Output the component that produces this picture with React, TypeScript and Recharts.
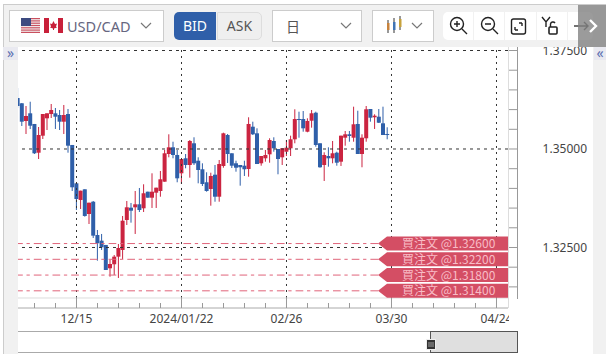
import React from 'react';
import { ComposedChart, Bar, XAxis, YAxis, ReferenceLine } from 'recharts';

// daily candles, prices (first visible bar is clipped by the left edge)
const highs = [1.36548,1.36167,1.36091,1.362,1.35635,1.35558,1.35888,1.35906,1.36142,1.36041,1.3599,1.36117,1.36015,1.35102,1.34129,1.33942,1.33977,1.33637,1.3368,1.32944,1.32843,1.32564,1.32183,1.3231,1.32589,1.333,1.3368,1.3363,1.33934,1.3401,1.34104,1.33916,1.34383,1.34018,1.34442,1.34975,1.35373,1.35185,1.34975,1.34746,1.34873,1.35228,1.35297,1.34789,1.34637,1.34409,1.34398,1.34594,1.34721,1.35414,1.35381,1.34891,1.34703,1.34594,1.34703,1.35805,1.35693,1.35525,1.34822,1.34975,1.35272,1.35297,1.35,1.35018,1.35228,1.35338,1.36008,1.35947,1.35964,1.35779,1.3599,1.35947,1.35145,1.34916,1.35043,1.35203,1.34931,1.35338,1.35457,1.35457,1.36074,1.35972,1.35373,1.36091,1.36015,1.35881,1.36015,1.36074,1.35551];
const lows = [1.36041,1.35584,1.35381,1.35508,1.34873,1.34746,1.35254,1.35482,1.35787,1.35508,1.35482,1.35381,1.34906,1.33934,1.33452,1.33477,1.33282,1.33096,1.32741,1.32165,1.32437,1.31929,1.31759,1.31802,1.31726,1.32208,1.33071,1.3313,1.32843,1.33401,1.33401,1.33764,1.33503,1.33503,1.33789,1.3417,1.34789,1.34764,1.34155,1.34112,1.3451,1.34272,1.34594,1.34129,1.34061,1.33916,1.33561,1.33662,1.33662,1.34525,1.34645,1.34518,1.34424,1.34069,1.34315,1.34297,1.35355,1.34619,1.34576,1.34678,1.34652,1.34931,1.34358,1.34594,1.34822,1.34822,1.35145,1.35287,1.35439,1.35424,1.35541,1.35058,1.34525,1.34188,1.34551,1.34637,1.34576,1.34569,1.35084,1.35185,1.35185,1.34873,1.34536,1.35185,1.35693,1.35508,1.3566,1.35355,1.35246];
const opens = [1.36294,1.3616,1.35711,1.35906,1.35635,1.34906,1.35338,1.35779,1.35888,1.35906,1.35863,1.35693,1.35888,1.35102,1.34129,1.33706,1.33977,1.3335,1.33662,1.32817,1.32673,1.32564,1.31972,1.32074,1.32267,1.32437,1.33198,1.3351,1.3352,1.33596,1.33495,1.33916,1.33764,1.33891,1.33934,1.3417,1.34873,1.35043,1.34848,1.34383,1.34764,1.34594,1.35145,1.34703,1.34485,1.34155,1.33985,1.34348,1.33789,1.34569,1.35355,1.34891,1.34637,1.34594,1.34576,1.34492,1.35566,1.35398,1.34637,1.34764,1.34865,1.35203,1.35,1.34789,1.34931,1.35018,1.35246,1.35761,1.35761,1.35439,1.35718,1.35921,1.35145,1.34594,1.34822,1.34764,1.34906,1.34678,1.35287,1.35373,1.35287,1.35635,1.34873,1.35272,1.36015,1.35805,1.3582,1.35652,1.35381];
const closes = [1.36091,1.35693,1.35838,1.35591,1.34891,1.35355,1.35888,1.35906,1.3599,1.3582,1.35693,1.35863,1.35084,1.34028,1.33731,1.33942,1.333,1.33637,1.328,1.32607,1.32505,1.31929,1.32081,1.32267,1.32487,1.3318,1.3352,1.33434,1.33596,1.33452,1.33876,1.33764,1.33916,1.34018,1.34231,1.34891,1.35043,1.34848,1.34256,1.34746,1.34594,1.35203,1.34637,1.34467,1.34112,1.33934,1.34315,1.33789,1.34619,1.35398,1.34873,1.34576,1.34525,1.34536,1.34485,1.35635,1.35373,1.34619,1.34822,1.34848,1.35228,1.35018,1.34746,1.35018,1.35033,1.35246,1.35761,1.35736,1.35525,1.35711,1.35906,1.35102,1.34536,1.34848,1.34764,1.34891,1.34652,1.35338,1.35373,1.3533,1.35627,1.34873,1.35287,1.36008,1.35794,1.35845,1.35667,1.35355,1.35355];

const orderPrices = [1.326, 1.322, 1.318, 1.314];
const gridPrices = [1.375, 1.35, 1.325];
const priceTicks = [1.315, 1.32, 1.325, 1.33, 1.335, 1.34, 1.345, 1.35, 1.355, 1.36, 1.365, 1.37, 1.375];
const timeLabels: Record<number, string> = { 0: '12/15', 25: '2024/01/22', 50: '02/26', 75: '03/30', 100: '04/24' };
const timeTicks = [-10, -5, 0, 5, 10, 15, 20, 25, 30, 35, 40, 45, 50, 55, 60, 65, 70, 75, 80, 85, 90, 95, 100];
const gridBars = [0, 25, 50, 75, 100];

const data = highs.map((high, i) => ({
  idx: i - 14,
  high,
  low: lows[i],
  open: opens[i],
  close: closes[i],
}));

const BLUE = '#2f5fa9';
const RED = '#cb2440';
const FONT = '"Noto Sans", sans-serif';
const PRICE_TOP = 1.37589;
const PRICE_BOTTOM = 1.30964;
const PLOT_FLOOR = 1.31218;

function Candle(props: any) {
  const { x, y, width, height, payload } = props;
  const up = payload.close >= payload.open;
  const color = up ? RED : BLUE;
  const perUnit = height / (payload.high - payload.low);
  const top = y + (payload.high - Math.max(payload.open, payload.close)) * perUnit;
  const bodyH = Math.abs(payload.close - payload.open) * perUnit;
  const mid = x + width / 2;
  return (
    <g>
      <line x1={mid} x2={mid} y1={y} y2={y + height} stroke={color} strokeWidth={1} />
      <rect x={x} y={top} width={width} height={Math.max(bodyH, 1)} fill={color} />
    </g>
  );
}

function PriceTick(props: any) {
  const { x, y, payload } = props;
  const major = Math.round(payload.value * 1000) % 25 === 0;
  return (
    <g>
      <line x1={x} x2={x + 10} y1={y} y2={y} stroke="#999" />
      {major && (
        <text x={x + 79} y={y + 4.5} textAnchor="end" fontSize={12} fill="#444" fontFamily={FONT}>
          {payload.value.toFixed(5)}
        </text>
      )}
    </g>
  );
}

function TimeTick(props: any) {
  const { x, y, payload } = props;
  const label = timeLabels[payload.value];
  return (
    <g>
      <line x1={x} x2={x} y1={y - (label ? 10 : 5)} y2={y} stroke="#999" />
      {label && (
        <text x={x} y={y + 15} textAnchor="middle" fontSize={12} fill="#444" fontFamily={FONT}>
          {label}
        </text>
      )}
    </g>
  );
}

function OrderTag(props: any) {
  const { viewBox, price } = props;
  const y = viewBox.y;
  const right = viewBox.x + viewBox.width;
  const left = right - 121;
  return (
    <g>
      <polygon
        points={`${left - 9},${y} ${left},${y - 7} ${right},${y - 7} ${right},${y + 7} ${left},${y + 7}`}
        fill="#d44e64"
      />
      <text x={left + 15} y={y + 4.5} fontSize={12} fill="#f8bcc6" fontFamily='"Noto Sans CJK JP", sans-serif'>
        {'買注文 @' + price.toFixed(5)}
      </text>
    </g>
  );
}

const box = (left: number, top: number, width: number, height: number, style: React.CSSProperties = {}): React.CSSProperties => ({
  position: 'absolute',
  left,
  top,
  width,
  height,
  boxSizing: 'border-box',
  ...style,
});

const Chevron = ({ left, top }: { left: number; top: number }) => (
  <svg style={box(left, top, 12, 8)} viewBox="0 0 12 8">
    <path d="M1 1 L6 6 L11 1" fill="none" stroke="#777" strokeWidth="1.2" />
  </svg>
);

function Toolbar() {
  const picker = { background: '#fff', border: '1px solid #ccc' };
  return (
    <>
      <div style={box(3, 4, 603, 43, { background: '#f1f1f1', borderTop: '1px solid #ccc', borderLeft: '1px solid #ccc' })} />
      <div style={box(9, 10, 155, 32, picker)} />
      <svg style={box(21, 18, 42, 16)} viewBox="0 0 42 16">
        <rect width="19" height="15" fill="#f4f4f4" />
        {[0, 2.3, 4.6, 6.9, 9.2, 11.5, 13.8].map(y => (
          <rect key={y} y={y} width="19" height="1.2" fill="#c9505f" />
        ))}
        <rect width="10" height="8" fill="#3c4a80" />
        <rect x="23" width="19" height="15" fill="#fff" />
        <rect x="23" width="5" height="15" fill="#c8203a" />
        <rect x="37" width="5" height="15" fill="#c8203a" />
        <path d="M32.5 3 L34 6 L36 5.5 L35 8.5 L36 9.5 L33 10.5 L33 12 L32 12 L32 10.5 L29 9.5 L30 8.5 L29 5.5 L31 6 Z" fill="#c8203a" />
      </svg>
      <div style={box(67, 14, 70, 24, { font: `14.5px ${FONT}`, color: '#66667f', lineHeight: '24px' })}>USD/CAD</div>
      <Chevron left={140} top={22} />

      <div style={box(174, 12, 42, 28, { background: BLUE, color: '#fff', borderRadius: '5px 0 0 5px', font: `14px ${FONT}`, textAlign: 'center', lineHeight: '28px' })}>BID</div>
      <div style={box(217, 12, 45, 28, { background: '#efefef', color: '#555', border: '1px solid #ddd', borderRadius: '0 5px 5px 0', font: `14px ${FONT}`, textAlign: 'center', lineHeight: '26px' })}>ASK</div>

      <div style={box(272, 10, 90, 32, picker)} />
      <div style={box(286, 15, 20, 22, { font: `14px "Noto Sans CJK JP"`, color: '#555', lineHeight: '22px' })}>日</div>
      <Chevron left={340} top={22} />

      <div style={box(372, 10, 62, 32, picker)} />
      <svg style={box(385, 15, 18, 20)} viewBox="0 0 18 20">
        <line x1="3" x2="3" y1="5" y2="18" stroke="#333" />
        <rect x="2" y="8" width="2.5" height="7" fill="#c7823c" />
        <line x1="9" x2="9" y1="3" y2="18" stroke="#333" />
        <rect x="8" y="7" width="2.5" height="8" fill="#3f74b5" />
        <line x1="15" x2="15" y1="1" y2="15" stroke="#333" />
        <rect x="14" y="4" width="2.5" height="8" fill="#c7a23c" />
      </svg>
      <Chevron left={411} top={22} />

      <div style={box(443, 12, 150, 28, { background: '#fff', borderRadius: 5 })} />
      {[473, 504, 536, 567].map(left => (
        <div key={left} style={box(left, 12, 1, 28, { background: '#f1f1f1' })} />
      ))}
      <svg style={box(448, 15, 145, 22)} viewBox="0 0 145 22" fill="none" stroke="#222" strokeWidth="1.4">
        <circle cx="9" cy="9" r="6.5" />
        <path d="M14 14 L19 19 M6 9 H12 M9 6 V12" />
        <circle cx="40" cy="9" r="6.5" />
        <path d="M45 14 L50 19 M37 9 H43" />
        <rect x="63.5" y="4" width="14" height="15" rx="2" />
        <path d="M67 15 V12 M67 15 H70 M74 8 V11 M74 8 H71" />
        <path d="M94 2 L98 7 L102 2 M98 7 V12" />
        <rect x="101" y="12" width="8" height="7" rx="1" strokeWidth="1.6" />
        <path d="M102.5 12 V9 A2.5 2.5 0 0 1 107 8" />
        <path d="M126 11 H140 M136 7 L140 11 L136 15" stroke="#444" />
      </svg>
      <div style={box(578, 5, 28, 42, { background: 'rgba(130,130,130,0.8)' })} />
      <svg style={box(588, 19, 10, 14)} viewBox="0 0 10 14">
        <path d="M2 1 L8 7 L2 13" fill="none" stroke="#fff" strokeWidth="2.4" />
      </svg>
    </>
  );
}

export default function App() {
  return (
    <div style={box(0, 0, 606, 354, { position: 'fixed', background: '#fff', overflow: 'hidden' })}>
      {/* side gutters behind the chart */}
      <div style={box(3, 4, 15, 350, { background: '#f1f1f1', borderLeft: '1px solid #ccc' })} />
      <div style={box(593, 4, 13, 350, { background: '#f1f1f1' })} />

      <div style={box(0, 0, 606, 354)}>
        <ComposedChart
          width={606}
          height={354}
          data={data}
          margin={{ top: 47, right: 0, bottom: 0, left: 18 }}
        >
          <XAxis
            xAxisId={0}
            dataKey="idx"
            type="number"
            domain={[-13.93, 102.74]}
            allowDataOverflow
            ticks={timeTicks}
            interval={0}
            height={46}
            tickSize={0}
            tickMargin={0}
            tick={<TimeTick />}
            axisLine={{ stroke: '#aaa' }}
            tickLine={false}
          />
          <YAxis
            yAxisId={0}
            orientation="right"
            width={98}
            type="number"
            domain={[PRICE_BOTTOM, PRICE_TOP]}
            allowDataOverflow
            ticks={priceTicks}
            interval={0}
            tickSize={0}
            tickMargin={0}
            tick={<PriceTick />}
            axisLine={false}
            tickLine={false}
          />
          {gridPrices.map(p => (
            <ReferenceLine key={p} y={p} stroke="#333" strokeDasharray="3 4" />
          ))}
          {gridBars.map(b => (
            <ReferenceLine
              key={b}
              segment={[{ x: b, y: PLOT_FLOOR }, { x: b, y: PRICE_TOP }]}
              stroke="#333"
              strokeDasharray="2 4"
            />
          ))}
          <ReferenceLine y={PLOT_FLOOR} stroke="#ddd" />
          <Bar
            dataKey={(d: any) => [d.low, d.high]}
            barSize={4}
            shape={<Candle />}
            isAnimationActive={false}
          />
          {orderPrices.map(p => (
            <ReferenceLine
              key={p}
              y={p}
              stroke="#e0647a"
              strokeDasharray="7.7 4 3.3 3.7"
              strokeDashoffset={1}
              label={<OrderTag price={p} />}
            />
          ))}
        </ComposedChart>
      </div>

      {/* plot right edge, price scale spine and the clip for the last date label */}
      <div style={box(508, 47, 1, 261, { background: '#ddd' })} />
      <div style={box(517, 47, 1, 252, { background: '#999' })} />
      <div style={box(509, 300, 84, 30, { background: '#fff' })} />

      {/* range navigator */}
      <div style={box(18, 331, 499, 22, { borderTop: '1px solid #aaa', borderBottom: '1px solid #aaa' })} />
      <div style={box(430, 331, 88, 22, { background: '#dfdfdf', border: '1.5px solid #555' })} />
      <div style={box(426, 339, 10, 11, { background: '#333', border: '1px solid #eee' })} />
      <svg style={box(428, 342, 6, 5)} viewBox="0 0 6 5">
        <path d="M1 0 V5 M3 0 V5 M5 0 V5" stroke="#bbb" strokeWidth="0.8" />
      </svg>

      <Toolbar />
      <div style={box(3, 47, 15, 13, { background: '#e9e9f0', color: '#5a6fb0', font: `14px ${FONT}`, textAlign: 'center', lineHeight: '11px' })}>»</div>
      <div style={box(594, 47, 12, 13, { background: '#e9e9f0', color: '#5a6fb0', font: `14px ${FONT}`, textAlign: 'center', lineHeight: '11px' })}>«</div>
    </div>
  );
}
